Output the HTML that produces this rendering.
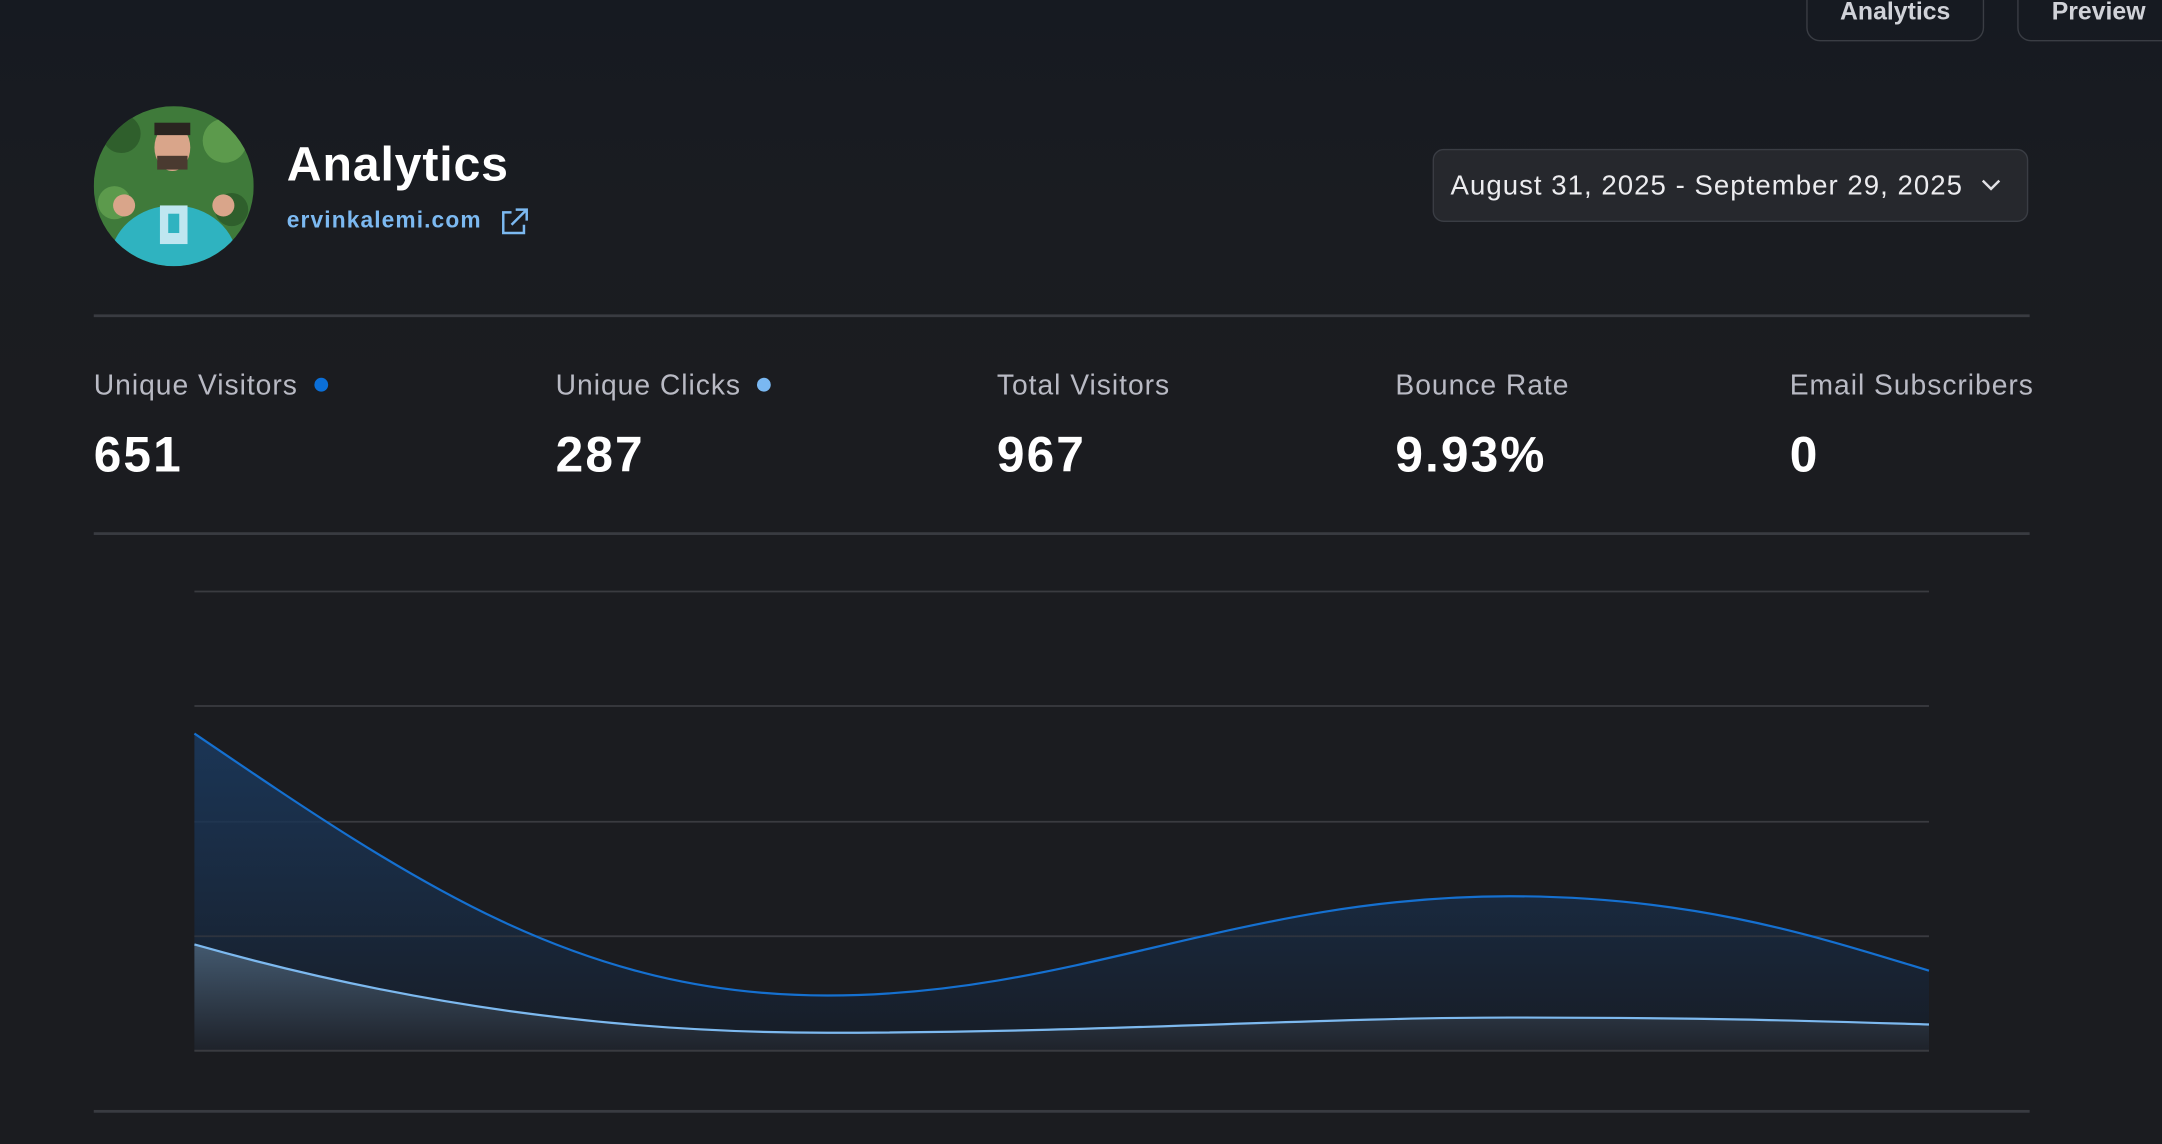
<!DOCTYPE html>
<html><head><meta charset="utf-8"><style>
html,body{margin:0;padding:0;width:2162px;height:1144px;overflow:hidden;background:#1b1c20;font-family:"Liberation Sans",sans-serif;}
#w{position:absolute;left:0;top:0;width:1568px;height:830px;transform:scale(1.37883);transform-origin:0 0;background:linear-gradient(#161a21 0,#1a1c21 160px,#1b1c20 300px);}
.a{position:absolute;}
.btn{position:absolute;border:1.5px solid #3a3d44;border-radius:10px;color:#d0d2d8;font-size:18px;font-weight:bold;box-sizing:border-box;text-align:center;}
.line{position:absolute;left:68px;width:1404px;height:1.5px;background:#393b41;}
.lab{position:absolute;top:268px;font-size:20.5px;color:#b9bac4;white-space:nowrap;letter-spacing:0.7px;}
.val{position:absolute;top:309px;font-size:36px;font-weight:bold;color:#fff;letter-spacing:1.5px;}
.dot{display:inline-block;width:10px;height:10px;border-radius:50%;margin-left:12px;vertical-align:2px;}
</style></head><body><div id="w">
<div class="btn" style="left:1310px;top:-20px;width:129px;height:50px;line-height:46px;padding-top:4px;">Analytics</div>
<div class="btn" style="left:1463px;top:-20px;width:130px;height:50px;line-height:46px;padding-top:4px;text-align:left;padding-left:24px;">Preview</div>
<svg class="a" style="left:68px;top:77px" width="116" height="116" viewBox="0 0 116 116">
<defs><clipPath id="c"><circle cx="58" cy="58" r="58"/></clipPath></defs>
<g clip-path="url(#c)"><rect width="116" height="116" fill="#3f7a3a"/>
<circle cx="20" cy="20" r="14" fill="#2f5f2c"/><circle cx="95" cy="25" r="16" fill="#5c9a4c"/><circle cx="15" cy="70" r="12" fill="#5c9a4c"/><circle cx="100" cy="75" r="12" fill="#2f5f2c"/>
<ellipse cx="58" cy="112" rx="46" ry="40" fill="#2fb3c0"/>
<ellipse cx="57" cy="30" rx="13" ry="17" fill="#d9a58a"/><rect x="44" y="12" width="26" height="9" fill="#2a2420"/><rect x="46" y="36" width="22" height="10" fill="#4a3a30"/>
<rect x="48" y="72" width="20" height="28" fill="#bfe6f0"/><rect x="54" y="78" width="8" height="14" fill="#2fb3c0"/>
<circle cx="22" cy="72" r="8" fill="#d9a58a"/><circle cx="94" cy="72" r="8" fill="#d9a58a"/></g></svg>
<div class="a" style="left:208px;top:100px;font-size:35px;font-weight:bold;color:#fff;letter-spacing:0.6px;">Analytics</div>
<div class="a" style="left:208px;top:151px;font-size:16.5px;font-weight:bold;color:#7cb9f1;letter-spacing:0.8px;">ervinkalemi.com</div>
<svg class="a" style="left:362px;top:150px" width="22" height="22" viewBox="0 0 22 22" fill="none" stroke="#7cb9f1" stroke-width="1.8"><path d="M9 4H3v15h15v-6"/><path d="M12 2h8v8M20 2L9 13"/></svg>
<div class="a" style="left:1039px;top:108px;width:432px;height:53px;box-sizing:border-box;background:#26282d;border:1.5px solid #3a3d44;border-radius:8px;"></div>
<div class="a" style="left:1052px;top:124px;font-size:20px;color:#ececef;white-space:nowrap;letter-spacing:0.75px;">August 31, 2025 - September 29, 2025</div>
<svg class="a" style="left:1436px;top:127px" width="16" height="14" viewBox="0 0 16 14" fill="none" stroke="#e0e0e4" stroke-width="1.8"><path d="M2 4l6 6 6-6"/></svg>
<div class="line" style="top:228px"></div>
<div class="lab" style="left:68px">Unique Visitors<span class="dot" style="background:#0b6fd8"></span></div>
<div class="lab" style="left:403px">Unique Clicks<span class="dot" style="background:#7ab8f2"></span></div>
<div class="lab" style="left:723px">Total Visitors</div>
<div class="lab" style="left:1012px">Bounce Rate</div>
<div class="lab" style="left:1298px">Email Subscribers</div>
<div class="val" style="left:68px">651</div>
<div class="val" style="left:403px">287</div>
<div class="val" style="left:723px">967</div>
<div class="val" style="left:1012px">9.93%</div>
<div class="val" style="left:1298px">0</div>
<div class="line" style="top:386px"></div>
<div class="line" style="top:805px"></div>
<svg class="a" style="left:0;top:0" width="1568" height="830">
<defs>
<linearGradient id="g1" x1="0" y1="532" x2="0" y2="762" gradientUnits="userSpaceOnUse"><stop offset="0" stop-color="#1b3d66" stop-opacity="0.9"/><stop offset="1" stop-color="#161c26"/></linearGradient>
<linearGradient id="g2" x1="0" y1="685" x2="0" y2="762" gradientUnits="userSpaceOnUse"><stop offset="0" stop-color="#43596f"/><stop offset="1" stop-color="#1e222a"/></linearGradient>
</defs>
<g stroke="#3a3b40" stroke-width="1.3">
<line x1="141" x2="1399" y1="429" y2="429"/><line x1="141" x2="1399" y1="512" y2="512"/><line x1="141" x2="1399" y1="596" y2="596"/><line x1="141" x2="1399" y1="679" y2="679"/><line x1="141" x2="1399" y1="762" y2="762"/></g>
<path d="M141,532 C300,640 420,722 600,722 C780,722 900,650 1095,650 C1230,650 1320,680 1399,704 L1399,762 L141,762Z" fill="url(#g1)" opacity="0.85"/>
<path d="M141,685 C300,730 450,749 600,749 C800,749 950,738 1095,738 C1250,738 1330,741 1399,743 L1399,762 L141,762Z" fill="url(#g2)"/>
<line x1="141" x2="1399" y1="679" y2="679" stroke="#3a3b40" stroke-width="1.3" opacity="0.6"/>
<path d="M141,532 C300,640 420,722 600,722 C780,722 900,650 1095,650 C1230,650 1320,680 1399,704" fill="none" stroke="#1570d0" stroke-width="1.6"/>
<path d="M141,685 C300,730 450,749 600,749 C800,749 950,738 1095,738 C1250,738 1330,741 1399,743" fill="none" stroke="#7db9ef" stroke-width="1.6"/>
<line x1="141" x2="1399" y1="762" y2="762" stroke="#3a3b40" stroke-width="1.3"/>
</svg>
</div></body></html>
